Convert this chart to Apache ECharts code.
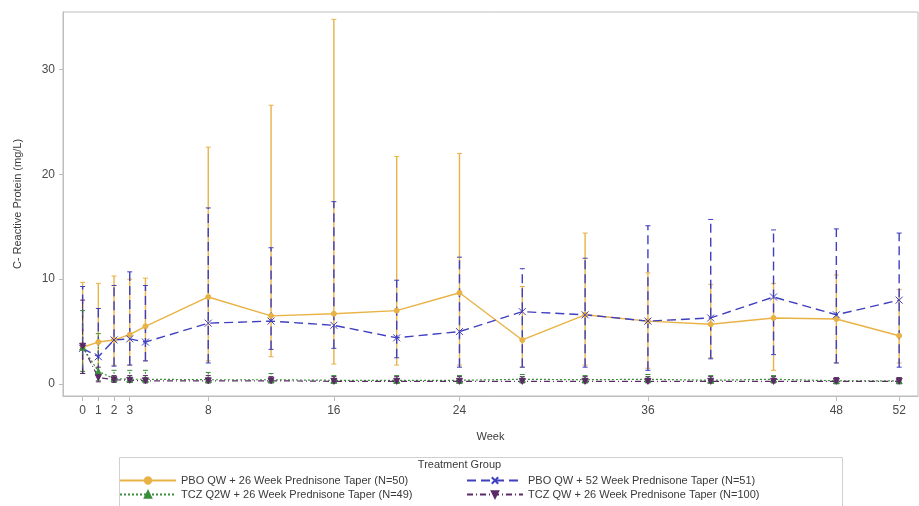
<!DOCTYPE html>
<html>
<head>
<meta charset="utf-8">
<title>C-Reactive Protein by Week</title>
<script src="https://cdn.jsdelivr.net/npm/echarts@6/dist/echarts.min.js"></script>
<style>
  html, body { margin: 0; padding: 0; background: #fff; }
  #chart { width: 919px; height: 506px; }
</style>
</head>
<body>
<div id="chart"></div>
<script>
// Visit weeks and axis labels
const weeks = [0, 1, 2, 3, 4, 8, 12, 16, 20, 24, 28, 32, 36, 40, 44, 48, 52];
const weekTicks = [0, 1, 2, 3, 8, 16, 24, 36, 48, 52];
const crpTicks = [0, 10, 20, 30];

// PBO QW + 26 Week Prednisone Taper (N=50)
const pbo26Mean  = [3.5, 4.0, 4.2, 4.7, 5.5, 8.3, 6.5, 6.7, 7.0, 8.7, 4.2, 6.6, 6.0, 5.7, 6.3, 6.2, 4.6];
const pbo26Lower = [1.0, 0.9, 1.8, 1.8, 2.2, 2.2, 2.6, 1.9, 1.8, 1.8, 1.6, 1.8, 1.5, 2.5, 1.3, 2.0, 2.0];
const pbo26Upper = [9.7, 9.6, 10.3, 10.0, 10.1, 22.6, 26.6, 34.8, 21.7, 22.0, 9.3, 14.4, 10.6, 9.5, 9.6, 10.4, 9.0];

// PBO QW + 52 Week Prednisone Taper (N=51)
const pbo52Mean  = [3.4, 2.6, 4.2, 4.3, 4.0, 5.8, 6.0, 5.6, 4.4, 5.0, 6.9, 6.6, 6.0, 6.3, 8.3, 6.6, 8.0];
const pbo52Lower = [1.0, 1.0, 1.7, 1.8, 2.2, 2.0, 3.3, 3.4, 2.5, 1.6, 1.6, 1.6, 1.3, 2.4, 2.8, 2.0, 1.6];
const pbo52Upper = [9.3, 7.2, 9.4, 10.7, 9.4, 16.8, 13.0, 17.4, 9.9, 12.1, 11.0, 12.0, 15.1, 15.7, 14.7, 14.8, 14.4];

// TCZ Q2W + 26 Week Prednisone Taper (N=49)
const tczQ2wMean  = [3.5, 1.2, 0.5, 0.45, 0.45, 0.4, 0.4, 0.35, 0.35, 0.35, 0.45, 0.4, 0.45, 0.35, 0.45, 0.3, 0.3];
const tczQ2wLower = [1.2, 0.3, 0.2, 0.2, 0.2, 0.15, 0.15, 0.15, 0.15, 0.15, 0.15, 0.15, 0.15, 0.15, 0.15, 0.1, 0.1];
const tczQ2wUpper = [7.0, 4.8, 1.3, 1.3, 1.3, 1.1, 1.0, 0.8, 0.8, 0.8, 0.9, 0.8, 0.9, 0.8, 0.8, 0.6, 0.6];

// TCZ QW + 26 Week Prednisone Taper (N=100)
const tczQwMean  = [3.6, 0.6, 0.4, 0.35, 0.3, 0.3, 0.3, 0.25, 0.25, 0.25, 0.25, 0.25, 0.25, 0.25, 0.25, 0.25, 0.25];
const tczQwLower = [1.0, 0.2, 0.15, 0.15, 0.1, 0.1, 0.1, 0.1, 0.1, 0.1, 0.1, 0.1, 0.1, 0.1, 0.1, 0.1, 0.1];
const tczQwUpper = [8.0, 1.6, 0.8, 0.8, 0.8, 0.8, 0.7, 0.7, 0.7, 0.7, 0.7, 0.7, 0.7, 0.7, 0.7, 0.6, 0.6];

const groupNames = [
  'PBO QW + 26 Week Prednisone Taper (N=50)',
  'PBO QW + 52 Week Prednisone Taper (N=51)',
  'TCZ Q2W + 26 Week Prednisone Taper (N=49)',
  'TCZ QW + 26 Week Prednisone Taper (N=100)'
];

const groups = [
  { name: groupNames[0], mean: pbo26Mean, lo: pbo26Lower, hi: pbo26Upper,
    color: '#E9B245', dash: 'solid', dashArr: null, width: 1.4, symbol: 'circle', symbolSize: 5, barWidth: 1.4 },
  { name: groupNames[1], mean: pbo52Mean, lo: pbo52Lower, hi: pbo52Upper,
    color: '#3F3FC0', dash: [9, 5], dashArr: [9, 5], width: 1.4, symbol: 'path://M-1,-1L1,1M1,-1L-1,1', symbolSize: 7, barWidth: 1.4 },
  { name: groupNames[2], mean: tczQ2wMean, lo: tczQ2wLower, hi: tczQ2wUpper,
    color: '#3A8E3A', dash: [2, 2], dashArr: [2, 2], width: 1.2, symbol: 'triangle', symbolSize: 6, barWidth: 1.1 },
  { name: groupNames[3], mean: tczQwMean, lo: tczQwLower, hi: tczQwUpper,
    color: '#5B2A66', dash: [6, 3, 1, 3], dashArr: [6, 3, 1, 3], width: 1.2, symbol: 'path://M-1,-1L1,-1L0,1Z', symbolSize: 6, barWidth: 1.1 }
];

function errorBarSeries(g) {
  return {
    type: 'custom',
    name: g.name + ' range',
    silent: true,
    z: 2,
    data: weeks.map((w, i) => [w, g.lo[i], g.hi[i]]),
    encode: { x: 0, y: [1, 2] },
    renderItem: function (params, api) {
      const x = api.value(0);
      const pLo = api.coord([x, api.value(1)]);
      const pHi = api.coord([x, api.value(2)]);
      const cap = 2.5;
      const style = { stroke: g.color, lineWidth: g.barWidth, lineDash: g.dashArr, fill: null };
      return {
        type: 'group',
        children: [
          { type: 'line', shape: { x1: pLo[0], y1: pLo[1], x2: pHi[0], y2: pHi[1] }, style: style },
          { type: 'line', shape: { x1: pHi[0] - cap, y1: pHi[1], x2: pHi[0] + cap, y2: pHi[1] },
            style: { stroke: g.color, lineWidth: 1 } },
          { type: 'line', shape: { x1: pLo[0] - cap, y1: pLo[1], x2: pLo[0] + cap, y2: pLo[1] },
            style: { stroke: g.color, lineWidth: 1 } }
        ]
      };
    }
  };
}

function meanSeries(g) {
  return {
    type: 'line',
    name: g.name,
    z: 3,
    data: weeks.map((w, i) => [w, g.mean[i]]),
    symbol: g.symbol,
    symbolSize: g.symbolSize,
    showSymbol: true,
    color: g.color,
    itemStyle: { color: g.color, borderColor: g.color, borderWidth: 1 },
    lineStyle: { color: g.color, width: g.width, type: g.dash },
    emphasis: { disabled: true },
    animation: false
  };
}

const series = [];
groups.forEach(g => series.push(errorBarSeries(g)));
groups.forEach(g => series.push(meanSeries(g)));

const axisGray = '#BDBDBD';
const labelColor = '#4A4A4A';
const fontFamily = 'Liberation Sans, Arial, sans-serif';

const legendCommon = {
  orient: 'vertical',
  itemWidth: 56,
  itemHeight: 8,
  itemGap: 3,
  padding: 0,
  selectedMode: false,
  textStyle: { color: '#3A3A3A', fontSize: 11, fontFamily: fontFamily }
};

const option = {
  animation: false,
  backgroundColor: '#fff',
  grid: {
    left: 63, right: 1, top: 12, bottom: 110,
    show: true, borderColor: axisGray, borderWidth: 1
  },
  xAxis: {
    type: 'value',
    min: -1.25,
    max: 53.2,
    name: 'Week',
    nameLocation: 'middle',
    nameGap: 35,
    nameTextStyle: { color: '#3A3A3A', fontSize: 11, fontFamily: fontFamily },
    axisLine: { show: true, onZero: false, lineStyle: { color: axisGray } },
    axisTick: { show: true, length: 5, lineStyle: { color: axisGray }, customValues: weekTicks },
    axisLabel: { color: labelColor, fontSize: 12, fontFamily: fontFamily, margin: 9, customValues: weekTicks },
    splitLine: { show: false }
  },
  yAxis: {
    type: 'value',
    min: -1.15,
    max: 35.5,
    name: 'C- Reactive Protein (mg/L)',
    nameLocation: 'middle',
    nameGap: 40,
    nameTextStyle: { color: '#3A3A3A', fontSize: 11, fontFamily: fontFamily },
    axisLine: { show: true, onZero: false, lineStyle: { color: axisGray } },
    axisTick: { show: true, length: 4, lineStyle: { color: axisGray }, customValues: crpTicks },
    axisLabel: { color: labelColor, fontSize: 12, fontFamily: fontFamily, margin: 8, customValues: crpTicks },
    splitLine: { show: false }
  },
  legend: [
    Object.assign({}, legendCommon, { left: 119, top: 475, data: [groupNames[0], groupNames[2]] }),
    Object.assign({}, legendCommon, { left: 466, top: 475, data: [groupNames[1], groupNames[3]] })
  ],
  graphic: [
    { type: 'rect', left: 117, top: 455, shape: { width: 723, height: 52 },
      style: { fill: 'none', stroke: '#D0D0D0', lineWidth: 1 }, silent: true },
    { type: 'text', left: 'center', top: 459,
      style: { text: 'Treatment Group', fill: '#3A3A3A', fontSize: 11, fontFamily: fontFamily },
      silent: true }
  ],
  series: series
};

const chart = echarts.init(document.getElementById('chart'), null, { renderer: 'canvas' });
chart.setOption(option);
</script>
</body>
</html>
